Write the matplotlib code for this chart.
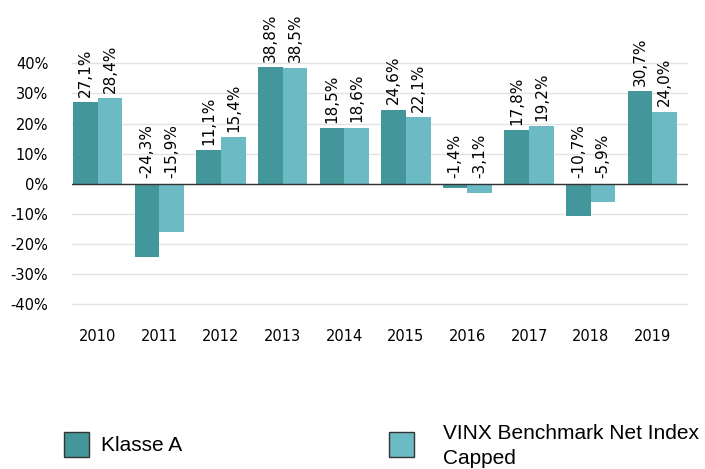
import numpy as np
import matplotlib.pyplot as plt
from matplotlib.patches import Rectangle

years = ['2010', '2011', '2012', '2013', '2014', '2015', '2016', '2017', '2018', '2019']
klasse_a = [27.1, -24.3, 11.1, 38.8, 18.5, 24.6, -1.4, 17.8, -10.7, 30.7]
vinx = [28.4, -15.9, 15.4, 38.5, 18.6, 22.1, -3.1, 19.2, -5.9, 24.0]
yticks = [-40, -30, -20, -10, 0, 10, 20, 30, 40]

col_a = '#43979a'
col_b = '#6cbac4'

fig = plt.figure(figsize=(7.05, 4.69), dpi=100)
ax = fig.add_axes([0.102, 0.319, 0.874, 0.578])

x = np.arange(len(years))
w = 0.4
ax.bar(x - w / 2, klasse_a, w, color=col_a, zorder=2)
ax.bar(x + w / 2, vinx, w, color=col_b, zorder=2)

def lab(v):
    return ('%.1f%%' % v).replace('.', ',')

for xi, va, vb in zip(x, klasse_a, vinx):
    for xx, v in ((xi - w / 2, va), (xi + w / 2, vb)):
        ax.text(xx, max(v, 0) + 1.8, lab(v), rotation=90, ha='center', va='bottom',
                fontsize=11, clip_on=False)

ax.set_xlim(-0.42, 9.58)
ax.set_ylim(-45, 45)
ax.set_yticks(yticks)
ax.set_yticklabels(['%d%%' % t for t in yticks], fontsize=10.5)
ax.set_xticks(x)
ax.set_xticklabels(years, fontsize=10.5)
ax.tick_params(axis='y', length=0, pad=17)
ax.tick_params(axis='x', length=0, pad=7)
ax.grid(axis='y', color='#e3e3e3', linewidth=1, zorder=0)
ax.axhline(0, color='#333333', linewidth=1, zorder=3)
for s in ax.spines.values():
    s.set_visible(False)

# legend drawn by hand
H = 469.0
W = 705.0
lf = dict(family='Liberation Sans', fontsize=15, va='center', ha='left')
fig.patches.append(Rectangle((64 / W, 1 - 457 / H), 25 / W, 25 / H, transform=fig.transFigure,
                             facecolor=col_a, edgecolor='#333333', linewidth=1))
fig.text(101 / W, 1 - 445 / H, 'Klasse A', **lf)
fig.patches.append(Rectangle((389 / W, 1 - 457 / H), 25 / W, 25 / H, transform=fig.transFigure,
                             facecolor=col_b, edgecolor='#333333', linewidth=1))
fig.text(443 / W, 1 - 446 / H, 'VINX Benchmark Net Index\nCapped', linespacing=1.4, **lf)

fig.savefig('out.png', dpi=100)
